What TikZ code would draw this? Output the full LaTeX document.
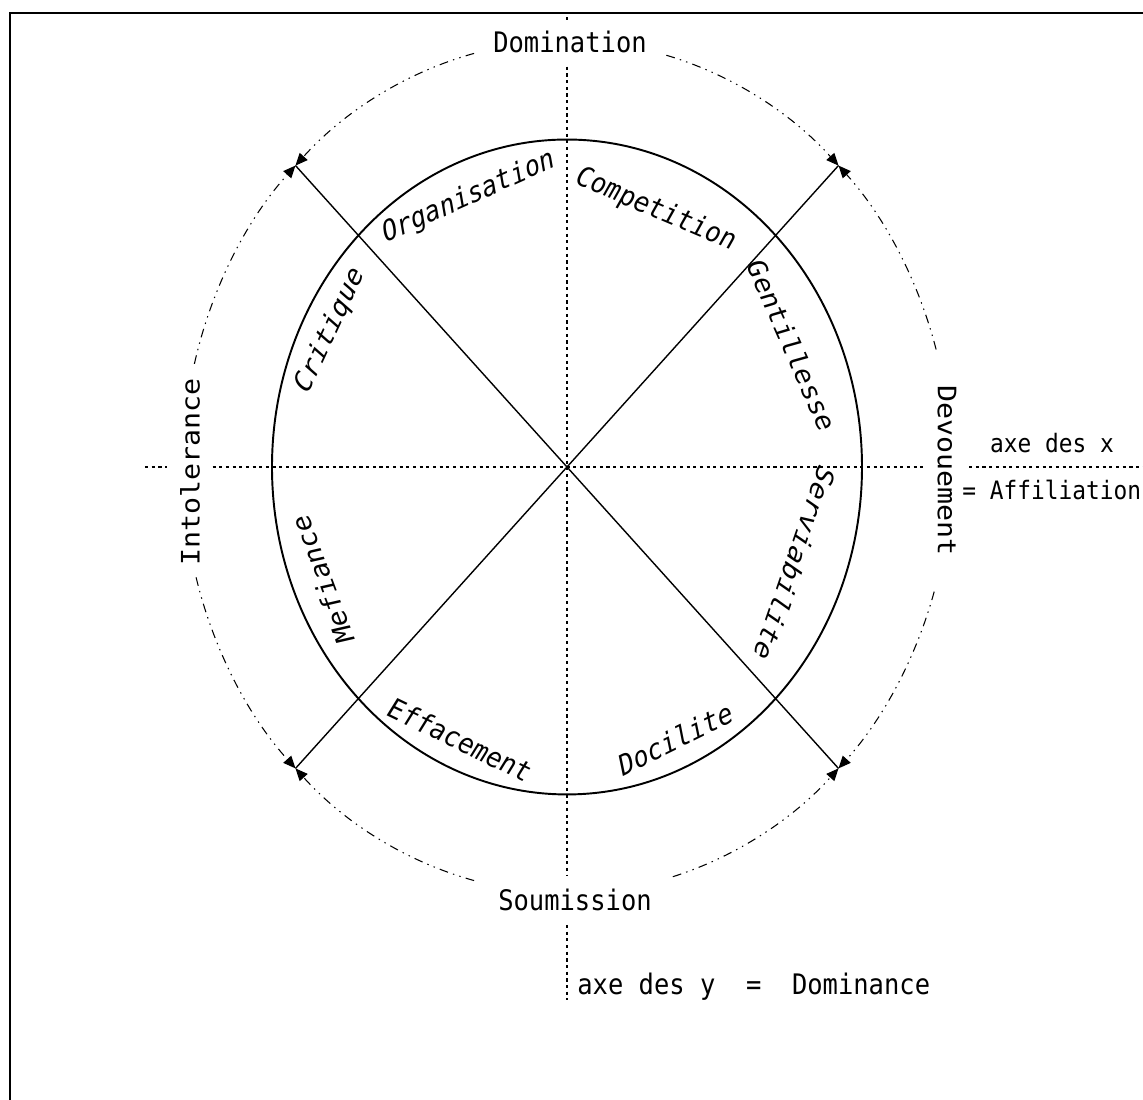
\documentclass[tikz,border=0pt]{standalone}
\usepackage{fontspec}
\setmainfont{DejaVu Sans Mono}
\usetikzlibrary{arrows.meta, calc}

\begin{document}
\begin{tikzpicture}[x=0.02cm, y=0.02cm, yscale=1.11, every node/.style={transform shape},
    axisline/.style={line width=0.8pt, dash pattern=on 1.8pt off 2pt},
    ring/.style={line width=0.6pt, dash pattern=on 5pt off 3pt on 0.8pt off 3pt on 0.8pt off 3pt,
      -{Triangle[length=7pt, width=6pt]}},
    wheel/.style={line width=1.1pt},
    diag/.style={line width=0.8pt},
    pole/.style={font=\fontsize{14.5}{16}\selectfont, inner sep=7pt},
    caption/.style={font=\fontsize{13}{15}\selectfont, inner sep=0pt},
    trait/.style={font=\fontsize{14.5}{16}\selectfont\itshape, inner sep=0pt}]
  \useasboundingbox (-567,-569.4) rectangle (576,420.7);
  % frame, only its top and left sides fall on the page
  \draw[line width=1.6pt] (-557,-600) |- (600,409);

  % pole names and axis captions
  \node[pole] (dom) at (3,383) {Domination};
  \node[pole] (soum) at (8,-390) {Soumission};
  \node[pole, rotate=90] (intol) at (-377,-4.5) {Intolerance};
  \node[pole, rotate=-90] (devou) at (380,-3) {Devouement};
  \node[caption] (axex) at (485,21.6) {axe des x};
  \node[caption, anchor=west] (affil) at (395,-21) {= Affiliation};
  \node[pole, inner sep=0pt, anchor=west] (axey) at (10,-468.5) {axe des y\ \ =\ \ Dominance};

  % dotted axes, broken at the pole names
  \coordinate (ytop) at (0,403);
  \coordinate (ybot) at (0,-480);
  \coordinate (xl) at (-422,0);
  \coordinate (xr) at (576,0);
  \draw[axisline] (ytop) -- (ytop |- dom.north);
  \draw[axisline] (ytop |- dom.south) -- (ytop |- soum.north);
  \draw[axisline] (ytop |- soum.south) -- (ybot);
  \draw[axisline] (xl) -- (xl -| intol.north);
  \draw[axisline] (xl -| intol.south) -- (xl -| devou.south);
  \draw[axisline] (xl -| devou.north) -- (xr);

  % inner wheel and its two diagonals
  \draw[wheel] (0,0) circle[radius=295];
  \coordinate (ne) at (45:384);
  \coordinate (nw) at (135:384);
  \coordinate (sw) at (225:384);
  \coordinate (se) at (-45:384);
  \draw[diag] (nw) -- (se);
  \draw[diag] (ne) -- (sw);

  % outer ring: eight arcs, each ending on a diagonal
  \foreach \from/\to in {104/135, 166/135, 195/225, 256/225, 286/315, 343/315, 16/45, 75/45} {
    \draw[ring] (\from:384) arc[start angle=\from, end angle=\to, radius=384];
  }

  % the eight traits inside the wheel
  \foreach \name/\ang/\rad/\rot/\txt in {org/112/262/22/Organisation, comp/69/248/-21/Competition,
      gent/26/250/-64/Gentillesse, serv/-21/244/-111/Serviabilite, doc/-66/268/24/Docilite,
      eff/-113.5/268/-23.5/Effacement, mef/202.6/265/112.6/Mefiance, crit/152.6/267/62.6/Critique} {
    \node[trait, rotate=\rot] (\name) at (\ang:\rad) {\txt};
  }
\end{tikzpicture}
\end{document}
